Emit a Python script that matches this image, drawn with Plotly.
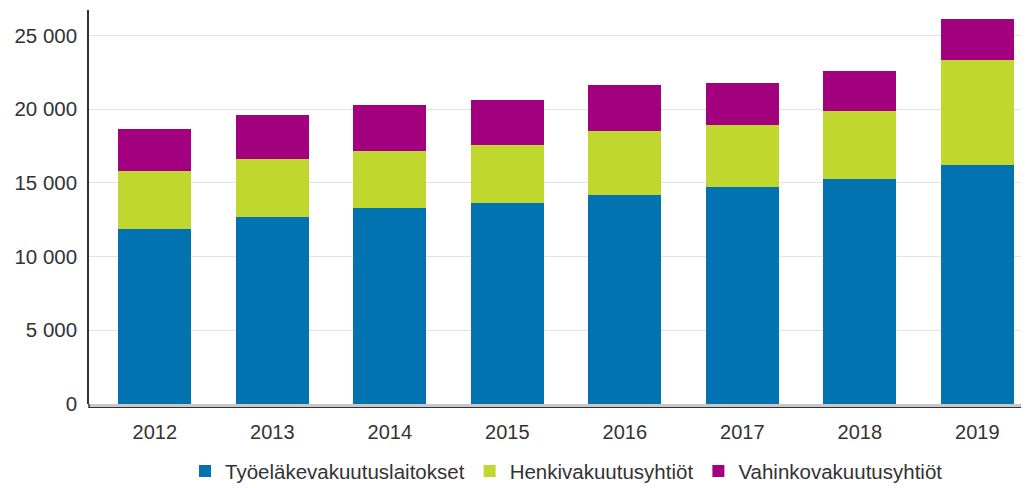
import plotly.graph_objects as go

years = ["2012", "2013", "2014", "2015", "2016", "2017", "2018", "2019"]
tyoelake = [11900, 12690, 13300, 13660, 14210, 14750, 15290, 16190]
henki = [3910, 3910, 3860, 3930, 4310, 4170, 4610, 7180]
vahinko = [2820, 3000, 3100, 3010, 3110, 2850, 2680, 2780]

names = ["Työeläkevakuutuslaitokset", "Henkivakuutusyhtiöt", "Vahinkovakuutusyhtiöt"]
colors = ["#0073B0", "#C0D72F", "#A3007F"]

fig = go.Figure()
for name, vals, col in zip(names, [tyoelake, henki, vahinko], colors):
    fig.add_trace(go.Bar(x=years, y=vals, name=name, marker=dict(color=col, line=dict(width=0))))

fig.update_layout(
    barmode="stack",
    bargap=0.38,
    width=1021, height=488,
    margin=dict(l=81, r=0, t=2, b=92),
    paper_bgcolor="white", plot_bgcolor="white",
    font=dict(family="Liberation Sans, Arial, sans-serif", size=20, color="#333333"),
    legend=dict(orientation="h", x=0.508, xanchor="center", y=-0.12, yanchor="top",
                font=dict(size=20.5, color="#333333"), traceorder="normal"),
    showlegend=True,
)
# grey base band with dark line beneath, as in the reference
fig.add_shape(type="rect", xref="paper", yref="paper", x0=0, x1=1,
              ysizemode="pixel", yanchor=0, y0=0, y1=-3,
              fillcolor="#c8c8c8", line=dict(width=0), layer="above")
fig.add_shape(type="line", xref="paper", yref="paper", x0=0, x1=1,
              ysizemode="pixel", yanchor=0, y0=-3.5, y1=-3.5,
              line=dict(color="#333333", width=1), layer="above")
fig.add_shape(type="line", xref="paper", yref="paper", x0=0, x1=0,
              ysizemode="pixel", yanchor=0, y0=0, y1=-4,
              line=dict(color="#333333", width=1.5), layer="above")

fig.update_xaxes(range=[-0.56, 7.44], showline=False,
                 ticks="", showgrid=False, tickfont=dict(size=20), ticklabelstandoff=14)
fig.update_yaxes(range=[0, 26730], showline=True, linecolor="#333333", linewidth=1.5,
                 gridcolor="#e3e3e3", gridwidth=1, tickvals=[0, 5000, 10000, 15000, 20000, 25000],
                 ticktext=["0", "5 000", "10 000", "15 000", "20 000", "25 000"],
                 ticks="", ticklabelstandoff=6, tickfont=dict(size=20.5), zeroline=False)

fig.write_html("out.html")
